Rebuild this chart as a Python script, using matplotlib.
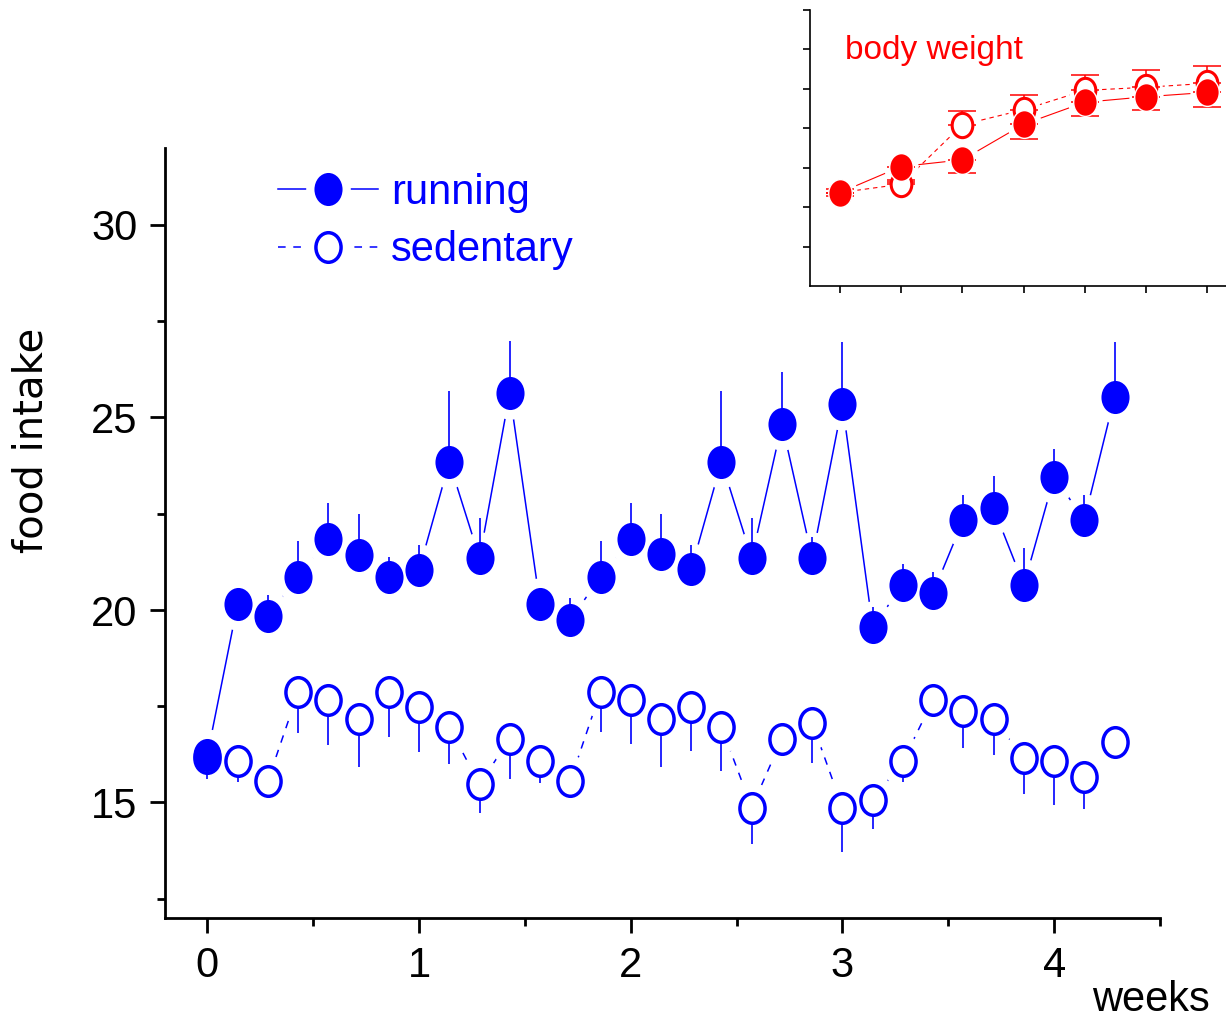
import numpy as np
import matplotlib
matplotlib.use('Agg')
import matplotlib.pyplot as plt
from matplotlib.path import Path
from matplotlib.transforms import Affine2D

BLUE = '#0000ff'
RED = '#ff0000'

# daily food intake over the 4 1/2 weeks (one point per day)
day = np.arange(31)
running = [16.23, 20.15, 19.85, 20.86, 21.85, 21.44, 20.86, 21.04, 23.84, 21.35,
           25.64, 20.15, 19.75, 20.85, 21.85, 21.45, 21.06, 23.85, 21.35, 24.84,
           21.35, 25.35, 19.56, 20.65, 20.45, 22.35, 22.64, 20.65, 23.45, 22.35,
           25.54]
runningErr = [0.3, 0.3, 0.54, 0.93, 0.94, 1.06, 0.52, 0.66, 1.84, 1.04,
              1.34, 0.3, 0.55, 0.94, 0.94, 1.05, 0.64, 1.83, 1.04, 1.35,
              0.55, 1.62, 0.53, 0.55, 0.54, 0.64, 0.84, 0.95, 0.74, 0.64,
              1.43]
sedentary = [16.15, 16.07, 15.56, 17.86, 17.66, 17.16, 17.86, 17.47, 16.96, 15.47,
             16.66, 16.07, 15.56, 17.88, 17.67, 17.17, 17.47, 16.96, 14.87, 16.66,
             17.07, 14.87, 15.07, 16.07, 17.67, 17.37, 17.17, 16.16, 16.07, 15.67,
             16.58]
sedentaryErr = [0.53, 0.55, 0.3, 1.06, 1.16, 1.24, 1.16, 1.16, 0.95, 0.75,
                1.04, 0.57, 0.3, 1.06, 1.15, 1.24, 1.14, 1.15, 0.94, 0.3,
                1.05, 1.15, 0.75, 0.54, 0.3, 0.96, 0.93, 0.95, 1.13, 0.84,
                0.3]

# weekly body weight (inset, unlabelled units)
bwWeek = [0, 1, 2, 3, 4, 5, 6]
bwRunning = [2.37, 3.03, 3.20, 4.10, 4.66, 4.80, 4.91]
bwRunningErr = [0.1, 0.38, 0.33, 0.37, 0.36, 0.34, 0.38]
bwSedentary = [2.37, 2.58, 4.09, 4.47, 4.96, 5.04, 5.14]
bwSedentaryErr = [0.1, 0.1, 0.34, 0.38, 0.39, 0.43, 0.45]

xTicks = [0, 1, 2, 3, 4]
yTicks = [15, 20, 25, 30]

# slightly tall ellipse used as point symbol
oval = Path.unit_circle().transformed(Affine2D().scale(0.85, 1.0))


def drawSeries(ax, x, y, err, color, filled, ls, lw, ms, mew, gap, down,
               capsize=0, elw=1.2, edge=None, z=5):
    """Line with gaps around the symbols, one-sided error bars, symbols."""
    line, = ax.plot(x, y, color=color, lw=lw, ls=ls, zorder=2)
    halo, = ax.plot(x, y, ls='none', marker=oval, ms=ms + gap,
                    mfc='white', mec='white', mew=0, zorder=3)
    zero = np.zeros(len(err))
    yerr = [err, zero] if down else [zero, err]
    ax.errorbar(x, y, yerr=yerr, fmt='none', ecolor=color, elinewidth=elw,
                capsize=capsize, capthick=elw, zorder=4)
    if filled:
        mark, = ax.plot(x, y, ls='none', marker=oval, ms=ms, mfc=color,
                        mec=edge or color, mew=mew, zorder=z)
    else:
        mark, = ax.plot(x, y, ls='none', marker=oval, ms=ms, mfc='white',
                        mec=color, mew=mew, zorder=z)
    return (line, halo, mark)


fig = plt.figure(figsize=(12.26, 10.21), dpi=100)
plt.rcParams['font.family'] = ['Liberation Sans', 'DejaVu Sans']

# main panel: food intake
ax = fig.add_axes([165 / 1226, 103 / 1021, 995 / 1226, 770 / 1021])
week = day / 7
sed = drawSeries(ax, week, sedentary, sedentaryErr, BLUE, False, (0, (5, 5)),
                 1.1, 21.3, 2.5, 16, True, z=5)
run = drawSeries(ax, week, running, runningErr, BLUE, True, '-',
                 1.1, 23.8, 0, 14, False, z=6)

ax.set_xlim(-0.2, 4.5)
ax.set_ylim(12, 32)
ax.set_xticks(xTicks)
ax.set_xticks([0.5, 1.5, 2.5, 3.5, 4.5], minor=True)
ax.set_yticks(yTicks)
ax.set_yticks([12.5, 17.5, 22.5, 27.5], minor=True)
for side in ['top', 'right']:
    ax.spines[side].set_visible(False)
for side in ['left', 'bottom']:
    ax.spines[side].set_linewidth(2.0)
ax.tick_params(which='major', direction='out', length=11, width=2.0,
               labelsize=30, pad=9)
ax.tick_params(which='minor', direction='out', length=6, width=2.0)

leg = ax.legend([run, sed], ['running', 'sedentary'], loc='upper left',
                bbox_to_anchor=(0.114, 0.968), frameon=False, fontsize=30,
                handlelength=2.4, handletextpad=0.3, labelspacing=0.42,
                borderpad=0, borderaxespad=0)
for txt in leg.get_texts():
    txt.set_color(BLUE)

fig.text(32 / 1226, 1 - 440 / 1021, 'food intake', rotation=90,
         ha='center', va='center', fontsize=29, family='DejaVu Sans')
fig.text(1210 / 1226, 1 - 1000 / 1021, 'weeks', ha='right', va='center',
         fontsize=30)

# inset: body weight
ins = fig.add_axes([810 / 1226, 735 / 1021, 416 / 1226, 276 / 1021])
drawSeries(ins, bwWeek, bwSedentary, bwSedentaryErr, RED, False, (0, (4, 3.5)),
           0.8, 17.5, 2.2, 10, False, capsize=10, elw=1.1, z=5)
drawSeries(ins, bwWeek, bwRunning, bwRunningErr, RED, True, '-',
           0.8, 20, 1.0, 9, True, capsize=10, elw=1.1, edge='white', z=6)
ins.set_xlim(-0.49, 6.31)
ins.set_ylim(0, 7)
ins.set_xticks(bwWeek)
ins.set_yticks([1, 2, 3, 4, 5, 6, 7])
ins.tick_params(direction='out', length=5, width=1.2,
                labelbottom=False, labelleft=False)
for side in ['top', 'right']:
    ins.spines[side].set_visible(False)
for side in ['left', 'bottom']:
    ins.spines[side].set_linewidth(1.2)
ins.patch.set_alpha(0)
ins.text(0.084, 0.855, 'body weight', transform=ins.transAxes, color=RED,
         fontsize=24, ha='left', va='center')

fig.savefig('out.png', dpi=100)
